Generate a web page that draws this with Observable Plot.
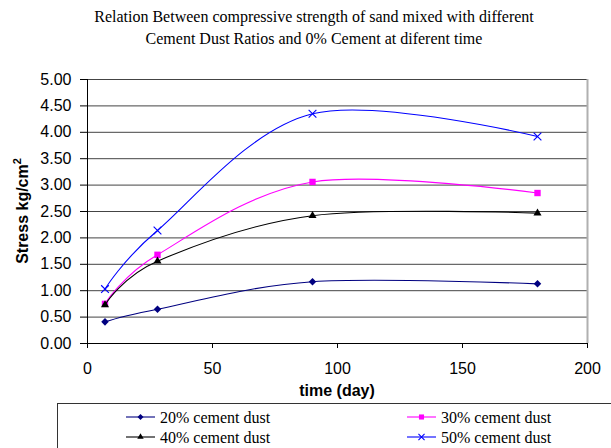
<!DOCTYPE html>
<html><head><meta charset="utf-8">
<script src="https://cdn.jsdelivr.net/npm/d3@7"></script>
<script src="https://cdn.jsdelivr.net/npm/@observablehq/plot@0.6"></script>
<style>body{margin:0;background:#fff} svg{display:block}</style>
</head><body><div id="chart"></div>
<script>
const days = [7, 28, 90, 180];
const seriesNames = ["20% cement dust", "30% cement dust", "40% cement dust", "50% cement dust"];
const dust20 = [0.41, 0.65, 1.17, 1.13];
const dust30 = [0.75, 1.68, 3.06, 2.85];
const dust40 = [0.73, 1.56, 2.42, 2.47];
const dust50 = [1.03, 2.14, 4.35, 3.92];
const colors = ["#000080", "#ff00ff", "#000000", "#0000ff"];
const symbols = ["diamond2", "square", "triangle", "times"];
const xTicks = [0, 50, 100, 150, 200];
const yTicks = [0, 0.5, 1, 1.5, 2, 2.5, 3, 3.5, 4, 4.5, 5];
const titleLines = ["Relation Between compressive strength of sand mixed with different", "Cement Dust Ratios and 0% Cement at diferent time"];
const xLabel = "time (day)";
const yLabel = "Stress kg/cm";
const yLabelSup = "2";

const values = [dust20, dust30, dust40, dust50];
const rows = seriesNames.flatMap((s, i) => days.map((d, j) => ({series: s, day: d, stress: values[i][j]})));

const W = 611, H = 448;
const symR = {diamond2: 3.4, square: 3.6, triangle: 3.0, times: 3.6};

const seriesMarks = seriesNames.flatMap((s, i) => {
  const data = rows.filter(r => r.series === s);
  const sym = symbols[i];
  return [
    Plot.line(data, {x: "day", y: "stress", stroke: colors[i], strokeWidth: 1.1, curve: "cardinal"}),
    sym === "times"
      ? Plot.dot(data, {x: "day", y: "stress", symbol: sym, r: symR[sym], stroke: colors[i], strokeWidth: 1.1})
      : Plot.dot(data, {x: "day", y: "stress", symbol: sym, r: symR[sym], fill: colors[i], stroke: "none"})
  ];
});

const svg = Plot.plot({
  width: W, height: H,
  marginLeft: 87, marginRight: 24, marginTop: 79, marginBottom: 105,
  style: {fontFamily: "'Liberation Sans', Arial, sans-serif", fontSize: "16px", color: "#000", background: "#fff"},
  x: {domain: [0, 200]},
  y: {domain: [0, 5]},
  marks: [
    Plot.gridY(yTicks.filter(v => v > 0), {stroke: "#444", strokeOpacity: 1}),
    Plot.ruleX([200], {stroke: "#b0b0b0", strokeWidth: 2}),
    Plot.axisY({ticks: yTicks, tickFormat: d3.format(".2f"), tickSize: 7, tickPadding: 9, label: null, fill: "#000"}),
    Plot.axisX({ticks: xTicks, tickSize: 5, tickPadding: 14, label: null, fill: "#000"}),
    Plot.ruleY([0], {stroke: "#000"}),
    Plot.ruleX([0], {stroke: "#000"}),
    ...seriesMarks
  ]
});

const s = d3.select(svg);
// title
s.append("text")
  .attr("x", 314).attr("y", 22)
  .attr("text-anchor", "middle")
  .attr("font-family", "'Liberation Serif', 'Times New Roman', serif")
  .attr("font-size", 16).attr("fill", "#000")
  .selectAll("tspan").data(titleLines).join("tspan")
  .attr("x", 314).attr("dy", (d, i) => i === 0 ? 0 : 22)
  .text(d => d);

// x label
s.append("text")
  .attr("x", 337).attr("y", 396)
  .attr("text-anchor", "middle")
  .attr("font-family", "'Liberation Sans', Arial, sans-serif")
  .attr("font-weight", "bold").attr("font-size", 16).attr("fill", "#000")
  .text(xLabel);

// y label
const yl = s.append("text")
  .attr("transform", "translate(28,211) rotate(-90)")
  .attr("text-anchor", "middle")
  .attr("font-family", "'Liberation Sans', Arial, sans-serif")
  .attr("font-weight", "bold").attr("font-size", 16).attr("fill", "#000");
yl.append("tspan").text(yLabel);
yl.append("tspan").attr("dy", -7).attr("font-size", 11).text(yLabelSup);

// legend
const lg = s.append("g").attr("text-anchor", "start");
lg.append("rect").attr("x", 57.5).attr("y", 403.5).attr("width", 600).attr("height", 100)
  .attr("fill", "#fff").attr("stroke", "#333").attr("stroke-width", 1);
const legPos = [[126, 417], [407, 417], [126, 437], [407, 437]];
const d3sym = {diamond2: d3.symbolDiamond2, square: d3.symbolSquare, triangle: d3.symbolTriangle, times: d3.symbolTimes};
seriesNames.forEach((name, i) => {
  const [x0, y0] = legPos[i];
  lg.append("line").attr("x1", x0).attr("x2", x0 + 29).attr("y1", y0).attr("y2", y0)
    .attr("stroke", colors[i]).attr("stroke-width", 1.1);
  const sym = symbols[i];
  const size = Math.PI * (symR[sym] * 0.8) ** 2;
  const p = lg.append("path").attr("transform", `translate(${x0 + 14.5},${y0})`)
    .attr("d", d3.symbol(d3sym[sym], size)());
  if (sym === "times") p.attr("fill", "none").attr("stroke", colors[i]).attr("stroke-width", 1.1);
  else p.attr("fill", colors[i]);
  lg.append("text").attr("x", x0 + 34).attr("y", y0 + 5.5)
    .attr("text-anchor", "start")
    .attr("font-family", "'Liberation Serif', 'Times New Roman', serif")
    .attr("font-size", 16).attr("fill", "#000")
    .text(name);
});

document.getElementById("chart").appendChild(svg);
</script>
</body></html>
